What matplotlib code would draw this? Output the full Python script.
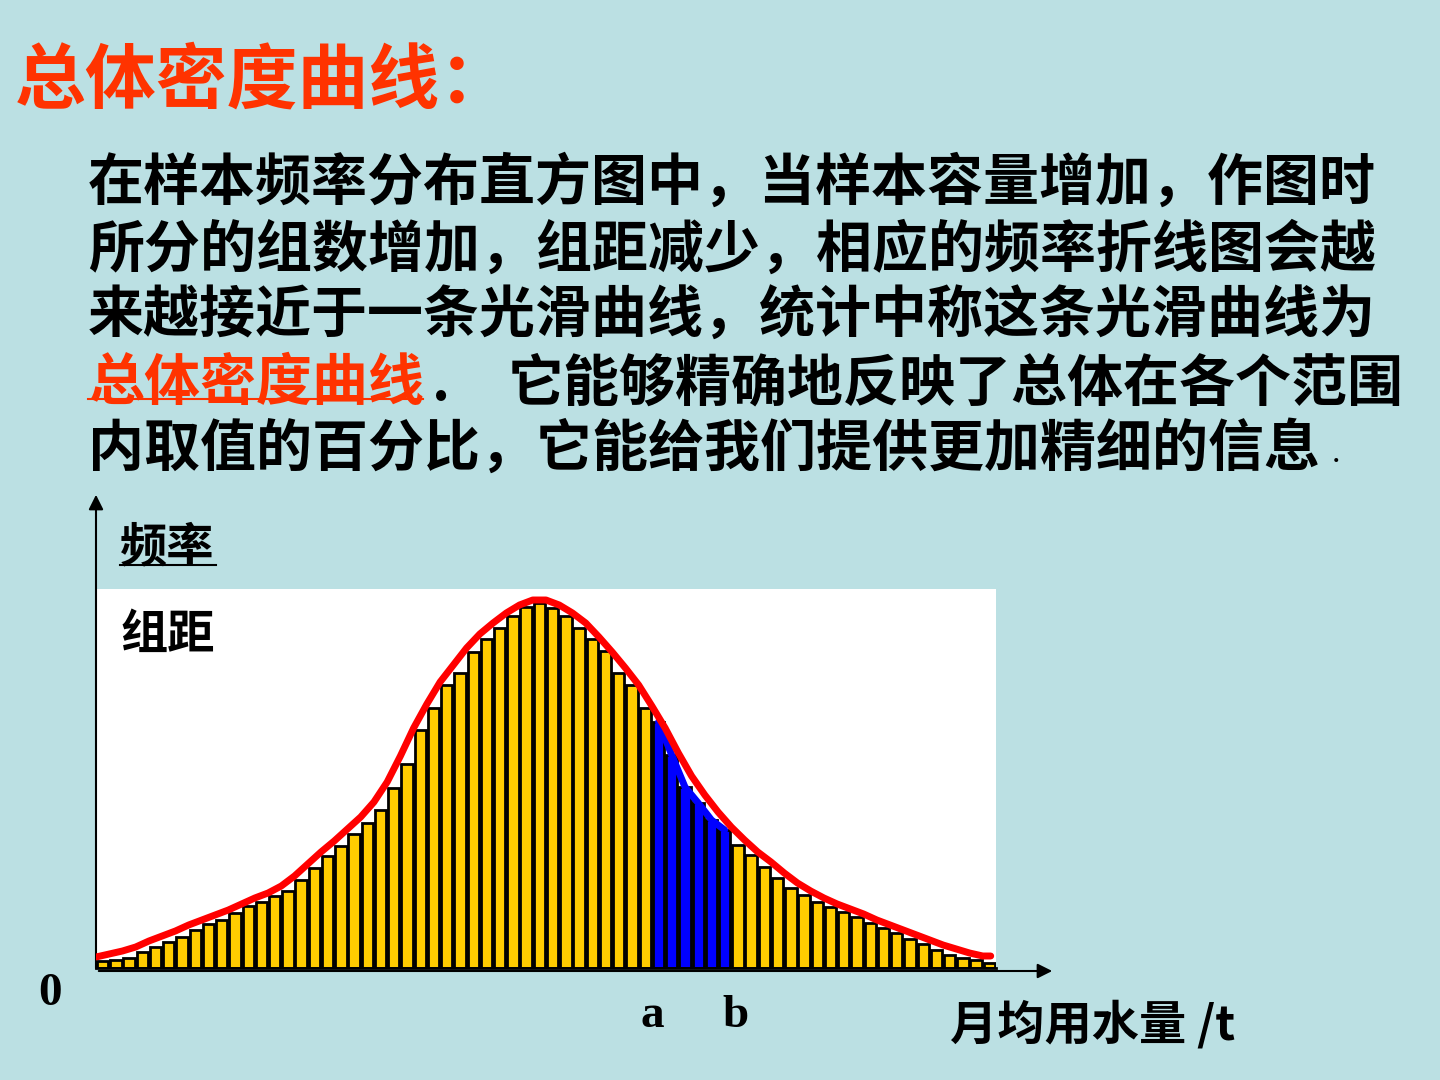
import numpy as np
import matplotlib.pyplot as plt
from matplotlib.lines import Line2D

plt.rcParams['font.family'] = ['Noto Sans CJK SC', 'DejaVu Sans']

W, H = 1440, 1080
BG = '#BBE0E3'
ORANGE = '#FF3300'

# 频率/组距 for each group (68 groups)
heights = [7, 8, 10, 16, 21, 26, 31, 38, 44, 48,
           55, 62, 66, 72, 77, 88, 100, 112, 122, 134,
           145, 158, 180, 204, 238, 260, 283, 295, 316, 329,
           340, 352, 361, 365, 360, 352, 340, 329, 317, 295,
           283, 260, 246, 213, 181, 165, 148, 138, 123, 113,
           101, 90, 80, 73, 66, 61, 56, 51, 45, 40,
           35, 29, 24, 18, 13, 10, 8, 5]
a_edge, b_edge = 42, 48   # groups between a and b are shaded blue

# 总体密度曲线, sampled at group edges
curve_x = [0, 1, 2, 3, 4, 5, 6, 7, 8, 9,
           10, 11, 12, 13, 14, 15, 16, 17, 18, 19,
           20, 21, 22, 23, 24, 25, 26, 27, 28, 29,
           30, 31, 32, 33, 34, 35, 36, 37, 38, 39,
           40, 41, 42, 43, 44, 45, 46, 47, 48, 49,
           50, 51, 52, 53, 54, 55, 56, 57, 58, 59,
           60, 61, 62, 63, 64, 65, 66, 67, 67.6]
curve_h = [11, 14, 17, 21, 27, 32, 37, 43, 48, 53,
           58, 64, 70, 75, 82, 92, 104, 116, 127, 139,
           151, 166, 186, 212, 240, 264, 286, 303, 320, 334,
           345, 355, 363, 368, 368, 363, 355, 345, 331, 316,
           300, 283, 262, 240, 215, 192, 173, 156, 141, 128,
           116, 106, 95, 85, 77, 70, 64, 59, 54, 48,
           43, 38, 33, 28, 23, 19, 15, 12, 12]

title = '总体密度曲线：'
body = ['在样本频率分布直方图中，当样本容量增加，作图时',
        '所分的组数增加，组距减少，相应的频率折线图会越',
        '来越接近于一条光滑曲线，统计中称这条光滑曲线为']
line4_red = '总体密度曲线'
line4_rest = '它能够精确地反映了总体在各个范围'
line5 = '内取值的百分比，它能给我们提供更加精细的信息'
ylab_top, ylab_bot = '频率', '组距'
xlab = '月均用水量 /t'


def ftxt(x, y, s, **kw):
    # x, y in pixels from top-left corner
    return fig.text(x / W, 1 - y / H, s, **kw)


fig = plt.figure(figsize=(W / 100, H / 100), dpi=100)
fig.patch.set_facecolor(BG)

ax = fig.add_axes([96 / W, (H - 968) / H, 900 / W, 379 / H])
ax.set_facecolor('white')
n = len(heights)
x = np.arange(n) + 0.5
colors = ['#0000FF' if a_edge <= i < b_edge else '#FFCC00' for i in range(n)]
ax.bar(x, heights, width=0.86, color=colors, edgecolor='black', linewidth=2.0, zorder=2)
blue = slice(a_edge, b_edge)
ax.plot(x[blue], np.array(heights)[blue], color='#0000FF', lw=5,
        solid_capstyle='round', zorder=3)
ax.plot(curve_x, curve_h, color='red', lw=5, solid_capstyle='round',
        solid_joinstyle='round', zorder=4)
ax.set_xlim(0, n)
ax.set_ylim(0, 379)
ax.set_xticks([])
ax.set_yticks([])
for s in ['top', 'right', 'left']:
    ax.spines[s].set_visible(False)
ax.spines['bottom'].set_linewidth(2)

# axes arrows
ax.annotate('', xy=(1055, H - 971), xytext=(96, H - 971), xycoords='figure pixels',
            textcoords='figure pixels',
            arrowprops=dict(arrowstyle='-|>', color='black', lw=1.5, mutation_scale=22))
ax.annotate('', xy=(96, H - 492), xytext=(96, H - 971), xycoords='figure pixels',
            textcoords='figure pixels',
            arrowprops=dict(arrowstyle='-|>', color='black', lw=1.5, mutation_scale=22))

# a, b labels under the shaded groups
xt = ax.get_xaxis_transform()
ax.text(a_edge, -0.155, 'a', transform=xt, ha='center', va='baseline',
        family='Liberation Serif', weight='bold', fontsize=34)
ax.text(b_edge + 0.3, -0.155, 'b', transform=xt, ha='center', va='baseline',
        family='Liberation Serif', weight='bold', fontsize=34)

# texts
ftxt(15, 103, title, fontsize=51, color=ORANGE, weight='bold', va='baseline')
for k, s in enumerate(body):
    ftxt(88, 200 + 66.5 * k, s, fontsize=40.3, weight='bold', va='baseline')
ftxt(88, 400, line4_red, fontsize=40.3, weight='bold', color=ORANGE, va='baseline')
fig.add_artist(Line2D([88 / W, 423 / W], [1 - 399 / H] * 2, color=ORANGE, lw=1.5))
ftxt(432, 400, '.', fontsize=40, weight='bold', va='baseline')
ftxt(508, 400, line4_rest, fontsize=40.3, weight='bold', va='baseline')
ftxt(88, 466, line5, fontsize=40.3, weight='bold', va='baseline')
ftxt(1332, 462, '.', fontsize=22, va='baseline')

ftxt(120, 561, ylab_top, fontsize=34, weight='bold', va='baseline')
fig.add_artist(Line2D([120 / W, 216 / W], [1 - 565 / H] * 2, color='black', lw=1.5))
ftxt(120, 649, ylab_bot, fontsize=34, weight='bold', va='baseline')
ftxt(38, 1005, '0', fontsize=34, family='Liberation Serif', weight='bold', va='baseline')
ftxt(950, 1040, xlab, fontsize=34, weight='bold', va='baseline')

fig.savefig('out.png', dpi=100, facecolor=BG)
